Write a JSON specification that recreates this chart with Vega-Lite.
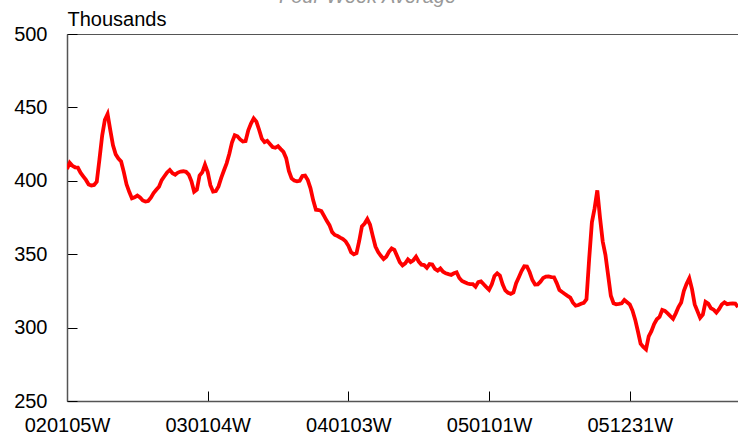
{
  "$schema": "https://vega.github.io/schema/vega-lite/v6.json",
  "width": 671,
  "height": 367,
  "autosize": {"type": "none"},
  "padding": {"left": 67, "top": 34, "right": 0, "bottom": 33},
  "background": "#ffffff",
  "title": {
    "text": "Four-Week Average",
    "font": "Liberation Sans",
    "fontSize": 20,
    "fontStyle": "italic",
    "fontWeight": "normal",
    "color": "#999999",
    "anchor": "middle",
    "dx": -35,
    "baseline": "alphabetic",
    "offset": -14
  },
  "data": {
    "values": [
      {"week": "2002-01-05", "value": 408},
      {"week": "2002-01-12", "value": 412.3},
      {"week": "2002-01-19", "value": 410.2},
      {"week": "2002-01-26", "value": 409.2},
      {"week": "2002-02-02", "value": 409},
      {"week": "2002-02-09", "value": 405.5},
      {"week": "2002-02-16", "value": 403},
      {"week": "2002-02-23", "value": 400.6},
      {"week": "2002-03-02", "value": 397.5},
      {"week": "2002-03-09", "value": 396.8},
      {"week": "2002-03-16", "value": 397.2},
      {"week": "2002-03-23", "value": 399.4},
      {"week": "2002-03-30", "value": 414.7},
      {"week": "2002-04-06", "value": 430.8},
      {"week": "2002-04-13", "value": 441.6},
      {"week": "2002-04-20", "value": 445.5},
      {"week": "2002-04-27", "value": 434.5},
      {"week": "2002-05-04", "value": 424.2},
      {"week": "2002-05-11", "value": 418},
      {"week": "2002-05-18", "value": 415.2},
      {"week": "2002-05-25", "value": 413.2},
      {"week": "2002-06-01", "value": 405.9},
      {"week": "2002-06-08", "value": 397.6},
      {"week": "2002-06-15", "value": 392.5},
      {"week": "2002-06-22", "value": 388},
      {"week": "2002-06-29", "value": 388.7},
      {"week": "2002-07-06", "value": 389.9},
      {"week": "2002-07-13", "value": 388.6},
      {"week": "2002-07-20", "value": 386.6},
      {"week": "2002-07-27", "value": 385.9},
      {"week": "2002-08-03", "value": 386.2},
      {"week": "2002-08-10", "value": 388.5},
      {"week": "2002-08-17", "value": 391.6},
      {"week": "2002-08-24", "value": 393.9},
      {"week": "2002-08-31", "value": 396},
      {"week": "2002-09-07", "value": 400.5},
      {"week": "2002-09-14", "value": 403.1},
      {"week": "2002-09-21", "value": 405.7},
      {"week": "2002-09-28", "value": 407.4},
      {"week": "2002-10-05", "value": 405.2},
      {"week": "2002-10-12", "value": 404.2},
      {"week": "2002-10-19", "value": 405.6},
      {"week": "2002-10-26", "value": 406.3},
      {"week": "2002-11-02", "value": 406.5},
      {"week": "2002-11-09", "value": 406.1},
      {"week": "2002-11-16", "value": 404.2},
      {"week": "2002-11-23", "value": 399.7},
      {"week": "2002-11-30", "value": 392.5},
      {"week": "2002-12-07", "value": 393.9},
      {"week": "2002-12-14", "value": 403.6},
      {"week": "2002-12-21", "value": 405.8},
      {"week": "2002-12-28", "value": 411},
      {"week": "2003-01-04", "value": 406},
      {"week": "2003-01-11", "value": 397},
      {"week": "2003-01-18", "value": 392.6},
      {"week": "2003-01-25", "value": 393},
      {"week": "2003-02-01", "value": 396.2},
      {"week": "2003-02-08", "value": 402},
      {"week": "2003-02-15", "value": 407},
      {"week": "2003-02-22", "value": 411.9},
      {"week": "2003-03-01", "value": 418.4},
      {"week": "2003-03-08", "value": 426.3},
      {"week": "2003-03-15", "value": 431},
      {"week": "2003-03-22", "value": 430.3},
      {"week": "2003-03-29", "value": 428.2},
      {"week": "2003-04-05", "value": 426.8},
      {"week": "2003-04-12", "value": 427.1},
      {"week": "2003-04-19", "value": 434.4},
      {"week": "2003-04-26", "value": 439},
      {"week": "2003-05-03", "value": 442.5},
      {"week": "2003-05-10", "value": 440.3},
      {"week": "2003-05-17", "value": 434.8},
      {"week": "2003-05-24", "value": 428.7},
      {"week": "2003-05-31", "value": 426.3},
      {"week": "2003-06-07", "value": 427.2},
      {"week": "2003-06-14", "value": 425.1},
      {"week": "2003-06-21", "value": 423},
      {"week": "2003-06-28", "value": 422.5},
      {"week": "2003-07-05", "value": 423.6},
      {"week": "2003-07-12", "value": 421.6},
      {"week": "2003-07-19", "value": 419.7},
      {"week": "2003-07-26", "value": 415.4},
      {"week": "2003-08-02", "value": 406.7},
      {"week": "2003-08-09", "value": 401.6},
      {"week": "2003-08-16", "value": 400.2},
      {"week": "2003-08-23", "value": 399.6},
      {"week": "2003-08-30", "value": 400},
      {"week": "2003-09-06", "value": 403.2},
      {"week": "2003-09-13", "value": 403.5},
      {"week": "2003-09-20", "value": 400.5},
      {"week": "2003-09-27", "value": 394.9},
      {"week": "2003-10-04", "value": 386.7},
      {"week": "2003-10-11", "value": 380.3},
      {"week": "2003-10-18", "value": 380.1},
      {"week": "2003-10-25", "value": 379.4},
      {"week": "2003-11-01", "value": 376.1},
      {"week": "2003-11-08", "value": 372.7},
      {"week": "2003-11-15", "value": 369.8},
      {"week": "2003-11-22", "value": 365},
      {"week": "2003-11-29", "value": 363.1},
      {"week": "2003-12-06", "value": 362.4},
      {"week": "2003-12-13", "value": 361.3},
      {"week": "2003-12-20", "value": 360.3},
      {"week": "2003-12-27", "value": 358.7},
      {"week": "2004-01-03", "value": 355.7},
      {"week": "2004-01-10", "value": 351.3},
      {"week": "2004-01-17", "value": 349.9},
      {"week": "2004-01-24", "value": 350.7},
      {"week": "2004-01-31", "value": 359},
      {"week": "2004-02-07", "value": 369},
      {"week": "2004-02-14", "value": 370.9},
      {"week": "2004-02-21", "value": 374},
      {"week": "2004-02-28", "value": 370.2},
      {"week": "2004-03-06", "value": 362.5},
      {"week": "2004-03-13", "value": 355.2},
      {"week": "2004-03-20", "value": 351.5},
      {"week": "2004-03-27", "value": 348.9},
      {"week": "2004-04-03", "value": 346.7},
      {"week": "2004-04-10", "value": 348.3},
      {"week": "2004-04-17", "value": 351.6},
      {"week": "2004-04-24", "value": 353.9},
      {"week": "2004-05-01", "value": 353},
      {"week": "2004-05-08", "value": 348.7},
      {"week": "2004-05-15", "value": 344.5},
      {"week": "2004-05-22", "value": 342.4},
      {"week": "2004-05-29", "value": 343.8},
      {"week": "2004-06-05", "value": 346.5},
      {"week": "2004-06-12", "value": 344.7},
      {"week": "2004-06-19", "value": 345.9},
      {"week": "2004-06-26", "value": 348.3},
      {"week": "2004-07-03", "value": 345},
      {"week": "2004-07-10", "value": 342.9},
      {"week": "2004-07-17", "value": 342.6},
      {"week": "2004-07-24", "value": 340.7},
      {"week": "2004-07-31", "value": 343.3},
      {"week": "2004-08-07", "value": 343},
      {"week": "2004-08-14", "value": 340},
      {"week": "2004-08-21", "value": 338.8},
      {"week": "2004-08-28", "value": 340.3},
      {"week": "2004-09-04", "value": 338.1},
      {"week": "2004-09-11", "value": 337},
      {"week": "2004-09-18", "value": 336.4},
      {"week": "2004-09-25", "value": 335.9},
      {"week": "2004-10-02", "value": 337},
      {"week": "2004-10-09", "value": 337.6},
      {"week": "2004-10-16", "value": 333.8},
      {"week": "2004-10-23", "value": 331.8},
      {"week": "2004-10-30", "value": 330.9},
      {"week": "2004-11-06", "value": 330},
      {"week": "2004-11-13", "value": 329.6},
      {"week": "2004-11-20", "value": 329.6},
      {"week": "2004-11-27", "value": 327.8},
      {"week": "2004-12-04", "value": 331},
      {"week": "2004-12-11", "value": 331.5},
      {"week": "2004-12-18", "value": 329.5},
      {"week": "2004-12-25", "value": 327.6},
      {"week": "2005-01-01", "value": 325.8},
      {"week": "2005-01-08", "value": 329.5},
      {"week": "2005-01-15", "value": 335.2},
      {"week": "2005-01-22", "value": 337},
      {"week": "2005-01-29", "value": 335.5},
      {"week": "2005-02-05", "value": 329.5},
      {"week": "2005-02-12", "value": 325.3},
      {"week": "2005-02-19", "value": 323.7},
      {"week": "2005-02-26", "value": 323},
      {"week": "2005-03-05", "value": 323.9},
      {"week": "2005-03-12", "value": 330.2},
      {"week": "2005-03-19", "value": 334.3},
      {"week": "2005-03-26", "value": 338.5},
      {"week": "2005-04-02", "value": 341.8},
      {"week": "2005-04-09", "value": 341.6},
      {"week": "2005-04-16", "value": 337.7},
      {"week": "2005-04-23", "value": 332.4},
      {"week": "2005-04-30", "value": 329.3},
      {"week": "2005-05-07", "value": 329.4},
      {"week": "2005-05-14", "value": 331.3},
      {"week": "2005-05-21", "value": 333.8},
      {"week": "2005-05-28", "value": 334.8},
      {"week": "2005-06-04", "value": 334.9},
      {"week": "2005-06-11", "value": 334.4},
      {"week": "2005-06-18", "value": 334.3},
      {"week": "2005-06-25", "value": 330.3},
      {"week": "2005-07-02", "value": 325.6},
      {"week": "2005-07-09", "value": 324.2},
      {"week": "2005-07-16", "value": 322.9},
      {"week": "2005-07-23", "value": 321.6},
      {"week": "2005-07-30", "value": 320.4},
      {"week": "2005-08-06", "value": 317},
      {"week": "2005-08-13", "value": 314.9},
      {"week": "2005-08-20", "value": 315.4},
      {"week": "2005-08-27", "value": 316.3},
      {"week": "2005-09-03", "value": 316.9},
      {"week": "2005-09-10", "value": 319.3},
      {"week": "2005-09-17", "value": 347},
      {"week": "2005-09-24", "value": 371.7},
      {"week": "2005-10-01", "value": 381.2},
      {"week": "2005-10-08", "value": 393.5},
      {"week": "2005-10-15", "value": 374.8},
      {"week": "2005-10-22", "value": 358.6},
      {"week": "2005-10-29", "value": 349.6},
      {"week": "2005-11-05", "value": 335.7},
      {"week": "2005-11-12", "value": 321.7},
      {"week": "2005-11-19", "value": 316.6},
      {"week": "2005-11-26", "value": 315.9},
      {"week": "2005-12-03", "value": 316.1},
      {"week": "2005-12-10", "value": 316.5},
      {"week": "2005-12-17", "value": 318.8},
      {"week": "2005-12-24", "value": 317.3},
      {"week": "2005-12-31", "value": 315.8},
      {"week": "2006-01-07", "value": 311.6},
      {"week": "2006-01-14", "value": 305.4},
      {"week": "2006-01-21", "value": 297.5},
      {"week": "2006-01-28", "value": 289},
      {"week": "2006-02-04", "value": 286.8},
      {"week": "2006-02-11", "value": 285.2},
      {"week": "2006-02-18", "value": 294},
      {"week": "2006-02-25", "value": 297.6},
      {"week": "2006-03-04", "value": 302.4},
      {"week": "2006-03-11", "value": 305.7},
      {"week": "2006-03-18", "value": 307.3},
      {"week": "2006-03-25", "value": 312},
      {"week": "2006-04-01", "value": 311.4},
      {"week": "2006-04-08", "value": 309.7},
      {"week": "2006-04-15", "value": 307.8},
      {"week": "2006-04-22", "value": 306},
      {"week": "2006-04-29", "value": 309.7},
      {"week": "2006-05-06", "value": 314},
      {"week": "2006-05-13", "value": 317.1},
      {"week": "2006-05-20", "value": 325},
      {"week": "2006-05-27", "value": 329.8},
      {"week": "2006-06-03", "value": 333.6},
      {"week": "2006-06-10", "value": 326.2},
      {"week": "2006-06-17", "value": 315.8},
      {"week": "2006-06-24", "value": 311.2},
      {"week": "2006-07-01", "value": 306.7},
      {"week": "2006-07-08", "value": 308.9},
      {"week": "2006-07-15", "value": 317.5},
      {"week": "2006-07-22", "value": 316.3},
      {"week": "2006-07-29", "value": 313.2},
      {"week": "2006-08-05", "value": 312.2},
      {"week": "2006-08-12", "value": 310.2},
      {"week": "2006-08-19", "value": 312.6},
      {"week": "2006-08-26", "value": 315.7},
      {"week": "2006-09-02", "value": 317.2},
      {"week": "2006-09-09", "value": 316},
      {"week": "2006-09-16", "value": 316.4},
      {"week": "2006-09-23", "value": 316.5},
      {"week": "2006-09-30", "value": 316.3},
      {"week": "2006-10-07", "value": 314}
    ]
  },
  "mark": {"type": "line", "color": "#ff0000", "strokeWidth": 3.8, "clip": true},
  "encoding": {
    "x": {
      "field": "week",
      "type": "temporal",
      "scale": {
        "type": "utc",
        "nice": false,
        "domain": [
          {"year": 2002, "month": 1, "date": 5, "utc": true},
          {"year": 2006, "month": 10, "date": 7, "utc": true}
        ]
      },
      "axis": {
        "title": null,
        "grid": false,
        "values": [
          {"year": 2002, "month": 1, "date": 5, "utc": true},
          {"year": 2003, "month": 1, "date": 4, "utc": true},
          {"year": 2004, "month": 1, "date": 3, "utc": true},
          {"year": 2005, "month": 1, "date": 1, "utc": true},
          {"year": 2005, "month": 12, "date": 31, "utc": true}
        ],
        "labelExpr": "utcFormat(datum.value, '%y%m%d') + 'W'",
        "labelFlush": false,
        "labelOverlap": false,
        "tickSize": -10,
        "labelPadding": 24
      }
    },
    "y": {
      "field": "value",
      "type": "quantitative",
      "scale": {"domain": [250, 500], "nice": false, "zero": false},
      "axis": {
        "values": [250, 300, 350, 400, 450, 500],
        "grid": false,
        "tickSize": -10,
        "labelPadding": 30,
        "title": "Thousands",
        "titleAngle": 0,
        "titleX": 0,
        "titleY": -9,
        "titleAlign": "left",
        "titleBaseline": "alphabetic",
        "labelFlush": false
      }
    }
  },
  "config": {
    "font": "Liberation Sans",
    "view": {"stroke": "#555555", "strokeWidth": 1},
    "axis": {
      "domainColor": "#555555",
      "domainWidth": 1.5,
      "tickColor": "#000000",
      "tickWidth": 1,
      "labelFont": "Liberation Sans",
      "labelFontSize": 20,
      "labelColor": "#000000",
      "titleFont": "Liberation Sans",
      "titleFontSize": 20,
      "titleFontWeight": "normal",
      "titleColor": "#000000"
    }
  }
}
